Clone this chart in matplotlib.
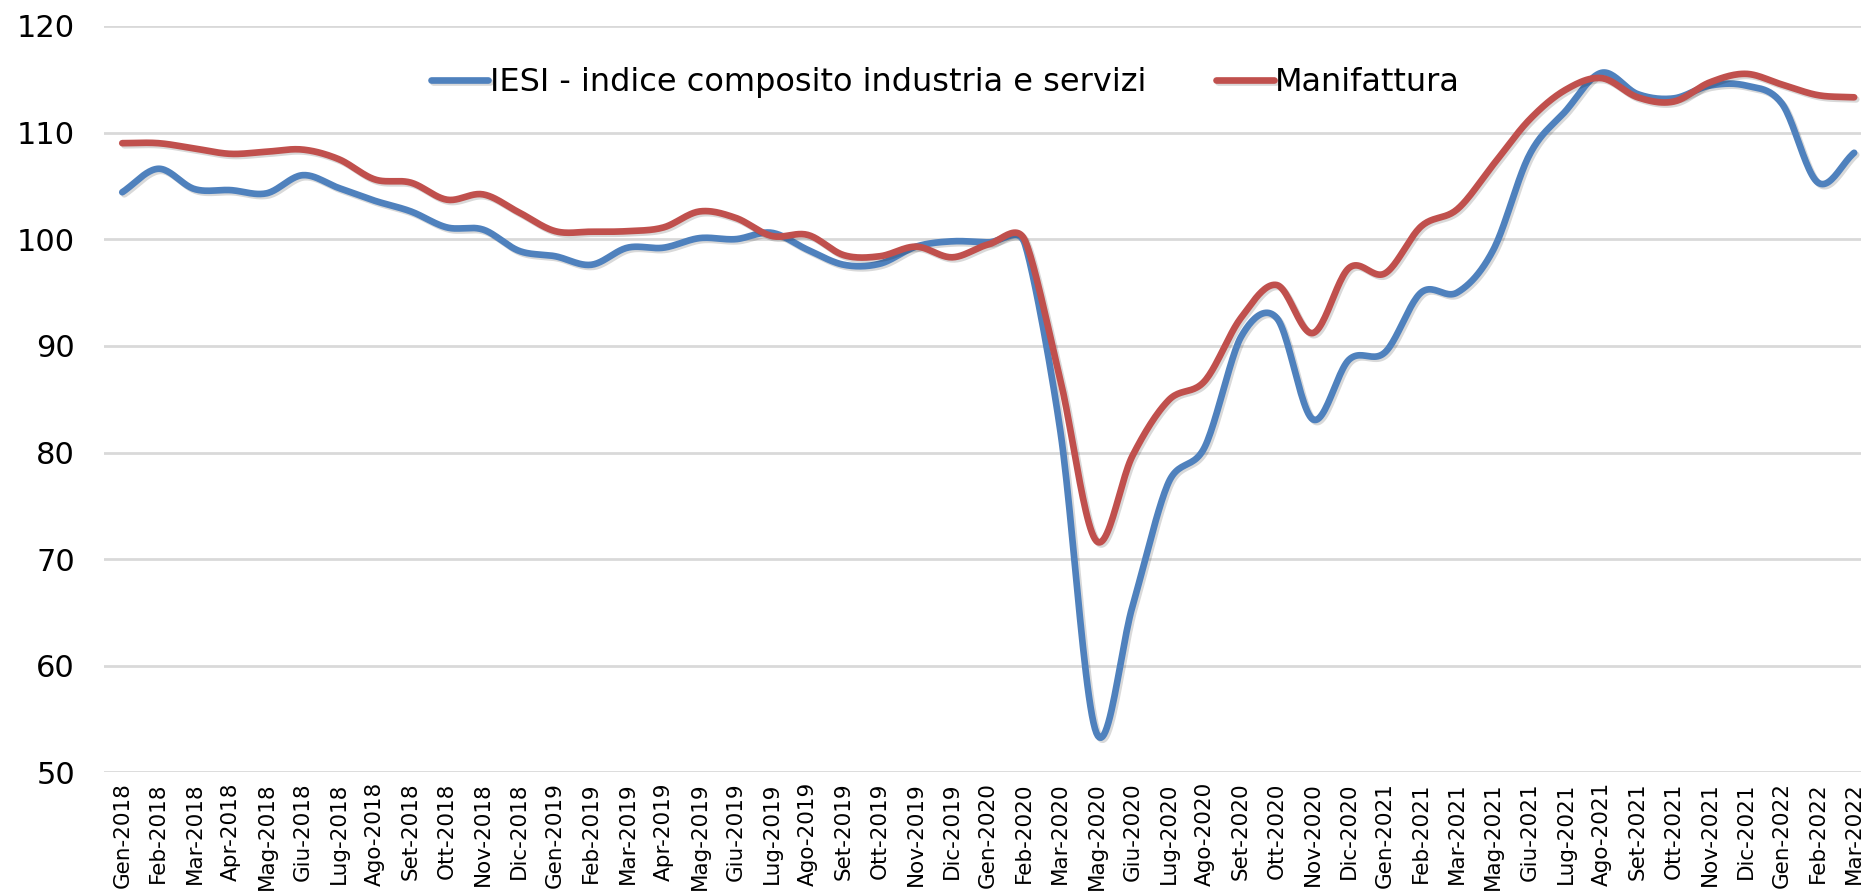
import numpy as np
import matplotlib.pyplot as plt
import matplotlib.patheffects as pe

# month labels as in the chart (Apr-2020 and Apr-2021 are not there)
labels = ['Gen-2018', 'Feb-2018', 'Mar-2018', 'Apr-2018', 'Mag-2018', 'Giu-2018',
          'Lug-2018', 'Ago-2018', 'Set-2018', 'Ott-2018', 'Nov-2018', 'Dic-2018',
          'Gen-2019', 'Feb-2019', 'Mar-2019', 'Apr-2019', 'Mag-2019', 'Giu-2019',
          'Lug-2019', 'Ago-2019', 'Set-2019', 'Ott-2019', 'Nov-2019', 'Dic-2019',
          'Gen-2020', 'Feb-2020', 'Mar-2020', 'Mag-2020', 'Giu-2020', 'Lug-2020',
          'Ago-2020', 'Set-2020', 'Ott-2020', 'Nov-2020', 'Dic-2020',
          'Gen-2021', 'Feb-2021', 'Mar-2021', 'Mag-2021', 'Giu-2021', 'Lug-2021',
          'Ago-2021', 'Set-2021', 'Ott-2021', 'Nov-2021', 'Dic-2021',
          'Gen-2022', 'Feb-2022', 'Mar-2022']

iesi = [104.4, 106.6, 104.7, 104.6, 104.3, 106.0, 104.8, 103.6, 102.6, 101.1, 100.9, 98.9,
        98.4, 97.6, 99.2, 99.2, 100.1, 100.0, 100.6, 99.0, 97.6, 97.7, 99.3, 99.8,
        99.7, 99.7, 82.0, 53.7, 65.6, 77.2, 80.5, 90.8, 92.6, 83.1, 88.7,
        89.4, 95.0, 95.0, 99.0, 107.9, 112.0, 115.6, 113.6, 113.2, 114.4, 114.4,
        112.7, 105.3, 108.1]

manifattura = [109.0, 109.0, 108.5, 108.0, 108.2, 108.4, 107.5, 105.6, 105.3, 103.7, 104.2, 102.5,
               100.75, 100.7, 100.75, 101.1, 102.6, 102.0, 100.3, 100.4, 98.5, 98.4, 99.3, 98.3,
               99.5, 100.0, 86.8, 71.7, 79.7, 84.9, 86.7, 92.6, 95.7, 91.2, 97.3,
               96.8, 101.2, 102.8, 107.0, 111.2, 114.0, 115.1, 113.3, 112.9, 114.7, 115.5,
               114.5, 113.5, 113.3]

blue = '#4F81BD'
red = '#C0504D'

# pixels per month / per index point, so the curve bends like on screen
SX, SY = 36.08, 10.65


def arm(p0, p1, p2):
    # excel-ish control arm: (p2-p0)/6, but never longer than half the shorter segment
    a = (p2 - p0) / 6.0
    lim = 0.5 * min(np.linalg.norm(p1 - p0), np.linalg.norm(p2 - p1))
    ln = np.linalg.norm(a)
    if ln > lim and ln > 0:
        a = a * lim / ln
    return a


def smooth(y, steps=24):
    px = np.arange(len(y)) * SX
    py = np.asarray(y, dtype=float) * SY
    pts = np.column_stack([px, py])
    n = len(pts)
    arms = []
    for i in range(n):
        p0 = pts[i - 1] if i > 0 else pts[i]
        p2 = pts[i + 1] if i + 1 < n else pts[i]
        if i == 0 or i == n - 1:
            arms.append((p2 - p0) / 3.0)
        else:
            arms.append(arm(p0, pts[i], p2))
    out = [pts[:1]]
    t = np.linspace(0, 1, steps + 1)[1:, None]
    for i in range(n - 1):
        p1, p2 = pts[i], pts[i + 1]
        c1 = p1 + arms[i]
        c2 = p2 - arms[i + 1]
        seg = ((1 - t) ** 3) * p1 + 3 * ((1 - t) ** 2) * t * c1 + 3 * (1 - t) * t ** 2 * c2 + t ** 3 * p2
        out.append(seg)
    curve = np.vstack(out)
    return curve[:, 0] / SX, curve[:, 1] / SY


fig = plt.figure(figsize=(18.61, 8.91), dpi=100)
ax = fig.add_axes([0.056, 0.133, 0.944, 0.838])

shadow = [pe.SimpleLineShadow(offset=(1.5, -1.5), alpha=0.15), pe.Normal()]

x1, y1 = smooth(iesi)
x2, y2 = smooth(manifattura)
ax.plot(x1, y1, color=blue, lw=4.8, solid_capstyle='round',
        label='IESI - indice composito industria e servizi', path_effects=shadow, zorder=3)
ax.plot(x2, y2, color=red, lw=4.8, solid_capstyle='round',
        label='Manifattura', path_effects=shadow, zorder=3)

ax.set_ylim(50, 120)
ax.set_xlim(-0.5, 48.19)
ax.set_yticks(range(50, 121, 10))
ax.set_xticks(range(len(labels)))
ax.set_xticklabels(labels, rotation=90, fontsize=15.5, ha='center', va='top')
ax.tick_params(axis='y', labelsize=22, length=0, pad=21)
ax.tick_params(axis='x', length=0, pad=7)
ax.grid(axis='y', color='#D9D9D9', lw=2)
ax.set_axisbelow(True)
for s in ax.spines.values():
    s.set_visible(False)

fig.legend(loc='center', bbox_to_anchor=(0.508, 0.907), ncol=2, frameon=False,
           fontsize=23, handlelength=1.8, handletextpad=0.05, columnspacing=2.2)

plt.savefig('out.png', dpi=100)
